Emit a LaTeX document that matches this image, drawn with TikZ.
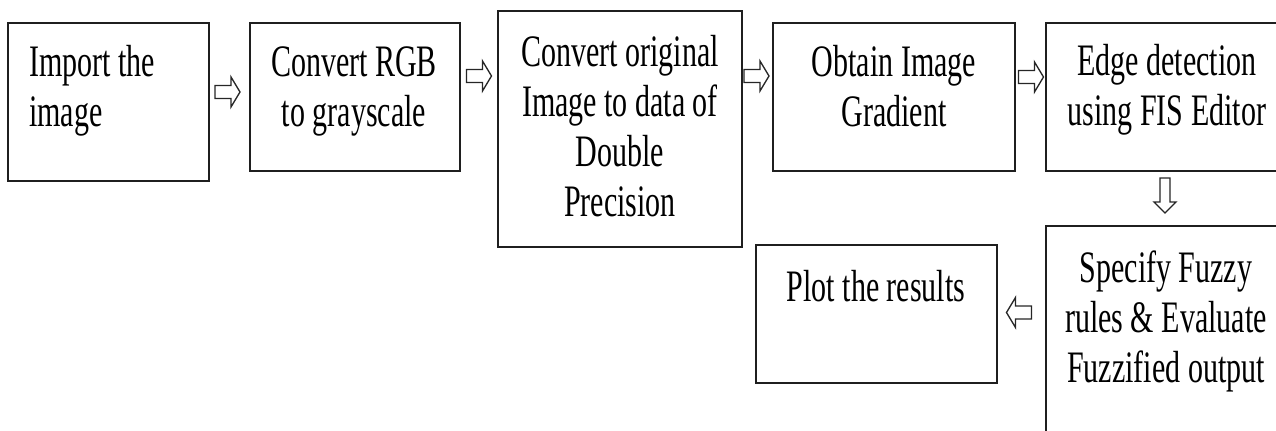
\documentclass[tikz,border=0pt]{standalone}
\usepackage{fontspec}
\setmainfont{Liberation Serif}[FakeStretch=0.667]
\usetikzlibrary{fit}
\newcommand\mlines[2]{\begin{tabular}[t]{@{}#1@{}}#2\end{tabular}}
\tikzset{
  box/.style={draw=black!88, line width=1pt, inner sep=0pt, rectangle},
  txt/.style={inner sep=0pt, font=\fontsize{33.75}{37.5}\selectfont},
  arr/.style={draw=black!85, line width=1pt, fill=white, line join=miter},
  rarr/.pic={\path[arr] (-12.5,-6.5) -- (3.5,-6.5) -- (3.5,-15) -- (12.5,0) -- (3.5,15) -- (3.5,6.5) -- (-12.5,6.5) -- cycle;},
  larr/.pic={\path[arr] (12.5,-6.5) -- (-3.5,-6.5) -- (-3.5,-15) -- (-12.5,0) -- (-3.5,15) -- (-3.5,6.5) -- (12.5,6.5) -- cycle;},
  darr/.pic={\path[arr] (-5,-17.5) -- (5,-17.5) -- (5,6.5) -- (11,6.5) -- (0,17.5) -- (-11,6.5) -- (-5,6.5) -- cycle;}
}
\begin{document}
\begin{tikzpicture}[x=0.75pt,y=-0.75pt]
\useasboundingbox (0,0) rectangle (1276,431);
\clip (0,0) rectangle (1276,431);
% boxes
\node[box, fit={(8,23) (209,181)}] (b1) {};
\node[box, fit={(250,23) (460,171)}] (b2) {};
\node[box, fit={(498,11) (742,247)}] (b3) {};
\node[box, fit={(773,23) (1015,171)}] (b4) {};
\node[box, fit={(1046,23) (1300,171)}] (b5) {};
\node[box, fit={(1046,226) (1300,460)}] (b6) {};
\node[box, fit={(756,245) (997,383)}] (b7) {};
% texts
\node[txt, anchor=base west] (t1) at (29,77) {\mlines{l}{Import the\\image}};
\node[txt, anchor=base] (t2) at (354,77) {\mlines{c}{Convert RGB\\to grayscale}};
\node[txt, anchor=base] (t3) at (620,67) {\mlines{c}{Convert original\\Image to data of\\Double\\Precision}};
\node[txt, anchor=base] (t4) at (894,77) {\mlines{c}{Obtain Image\\Gradient}};
\node[txt, anchor=base] (t5) at (1167,76) {\mlines{c}{Edge detection\\using FIS Editor}};
\node[txt, anchor=base] (t6) at (1166,282) {\mlines{c}{Specify Fuzzy\\rules \& Evaluate\\Fuzzified output}};
\node[txt, anchor=base] (t7) at (876,301) {Plot the results};
% block arrows
\pic (a1) at (227.5,92) {rarr};
\pic (a2) at (479,76) {rarr};
\pic (a3) at (756.5,76) {rarr};
\pic (a4) at (1031,77) {rarr};
\pic (a5) at (1165,195.5) {darr};
\pic (a6) at (1019,312.5) {larr};
\end{tikzpicture}
\end{document}
